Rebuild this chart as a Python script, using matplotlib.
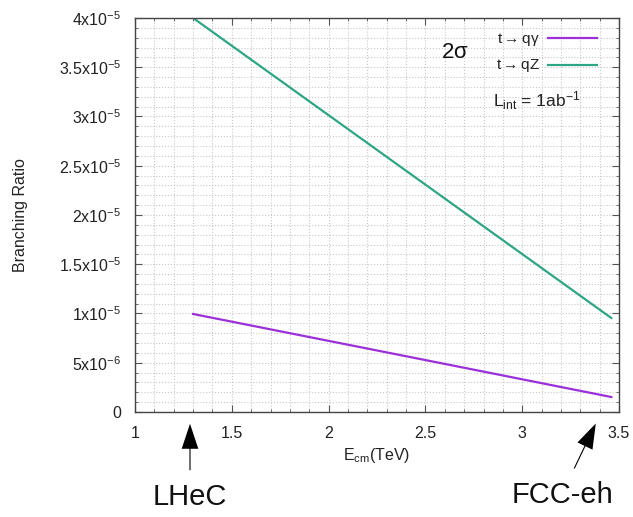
import matplotlib
matplotlib.use("Agg")
import matplotlib.pyplot as plt
from matplotlib.ticker import MultipleLocator
from matplotlib.lines import Line2D
from matplotlib.patches import FancyArrowPatch

# Data
energy = [1.3, 1.8, 2.3, 2.8, 3.46]
br_qgamma = [0.995e-5, 0.80e-5, 0.605e-5, 0.41e-5, 0.152e-5]
br_qZ = [4.0e-5, 3.295e-5, 2.59e-5, 1.885e-5, 0.954e-5]
xticks = [1, 1.5, 2, 2.5, 3, 3.5]
xticklabels = ["1", "1.5", "2", "2.5", "3", "3.5"]
yticks = [0, 0.5e-5, 1e-5, 1.5e-5, 2e-5, 2.5e-5, 3e-5, 3.5e-5, 4e-5]
yticklabels = ["0", r"5x10$^{-6}$", r"1x10$^{-5}$", r"1.5x10$^{-5}$", r"2x10$^{-5}$",
               r"2.5x10$^{-5}$", r"3x10$^{-5}$", r"3.5x10$^{-5}$", r"4x10$^{-5}$"]

plt.rcParams['font.family'] = ['Liberation Sans', 'DejaVu Sans']
plt.rcParams['mathtext.fontset'] = 'custom'
plt.rcParams['mathtext.rm'] = 'Liberation Sans'
plt.rcParams['mathtext.it'] = 'Liberation Sans'

fig = plt.figure(figsize=(6.33, 5.17), dpi=100)
ax = fig.add_axes([0.2133, 0.2031, 0.7647, 0.7621])

def fig_xy(px, py):
    return px / 633, 1 - py / 517

purple = '#9b30d9'
green = '#2ea584'
ax.plot(energy, br_qgamma, color=purple, lw=1.6)
ax.plot(energy, br_qZ, color=green, lw=1.6)

ax.set_xlim(1, 3.5)
ax.set_ylim(0, 4e-5)
ax.set_xticks(xticks)
ax.set_xticklabels(xticklabels, fontsize=11.5, color='#222222')
ax.set_yticks(yticks)
ax.set_yticklabels(yticklabels, fontsize=11.5, color='#222222')
ax.xaxis.set_minor_locator(MultipleLocator(0.1))
ax.yaxis.set_minor_locator(MultipleLocator(1e-6))
ax.tick_params(which='both', direction='in', top=True, right=True, color='#555555')
ax.tick_params(which='major', length=5, pad=10)
ax.tick_params(which='minor', length=2.5)
ax.grid(which='both', color='#c8c8c8', linestyle=':', linewidth=0.8)
for s in ax.spines.values():
    s.set_color('#444444')
    s.set_linewidth(1.0)

ax.set_ylabel('Branching Ratio', fontsize=11.5, color='#222222')
ax.yaxis.set_label_coords(28/633, 1 - 215/517, transform=fig.transFigure)
ax.set_xlabel(r'E$_{\mathregular{cm}}$(TeV)', fontsize=11.5, color='#222222', labelpad=4)

# Legend-like annotation block
fig.text(*fig_xy(455, 52), r'2$\sigma$', fontsize=16, ha='center', va='center', color='#111111')
fig.text(*fig_xy(540, 40), r't$\rightarrow$q$\gamma$',
         fontsize=11, ha='right', va='center', color='#222222')
fig.text(*fig_xy(540, 66), r't$\rightarrow$qZ',
         fontsize=11, ha='right', va='center', color='#222222')
fig.add_artist(Line2D([548/633, 597/633], [1-38/517, 1-38/517], color=purple, lw=1.6))
fig.add_artist(Line2D([548/633, 597/633], [1-65/517, 1-65/517], color=green, lw=1.6))
fig.text(*fig_xy(493, 101), r'L$_{\mathregular{int}}$ = 1ab$^{\mathregular{-1}}$',
         fontsize=12.5, ha='left', va='center', color='#222222')

# Arrows and collider labels
fig.text(190/633, 1 - 497/517, 'LHeC', fontsize=21, ha='center', va='center', color='#111111')
fig.text(562/633, 1 - 495/517, 'FCC-eh', fontsize=21, ha='center', va='center', color='#111111')
style = 'simple,head_length=18,head_width=12,tail_width=0.8'
a1 = FancyArrowPatch(fig_xy(190, 473), fig_xy(190, 421), transform=fig.transFigure,
                     arrowstyle=style, mutation_scale=1, color='black', lw=0)
a2 = FancyArrowPatch(fig_xy(573, 471), fig_xy(597, 421), transform=fig.transFigure,
                     arrowstyle=style, mutation_scale=1, color='black', lw=0)
fig.add_artist(a1)
fig.add_artist(a2)

fig.savefig('out.png', dpi=100)
